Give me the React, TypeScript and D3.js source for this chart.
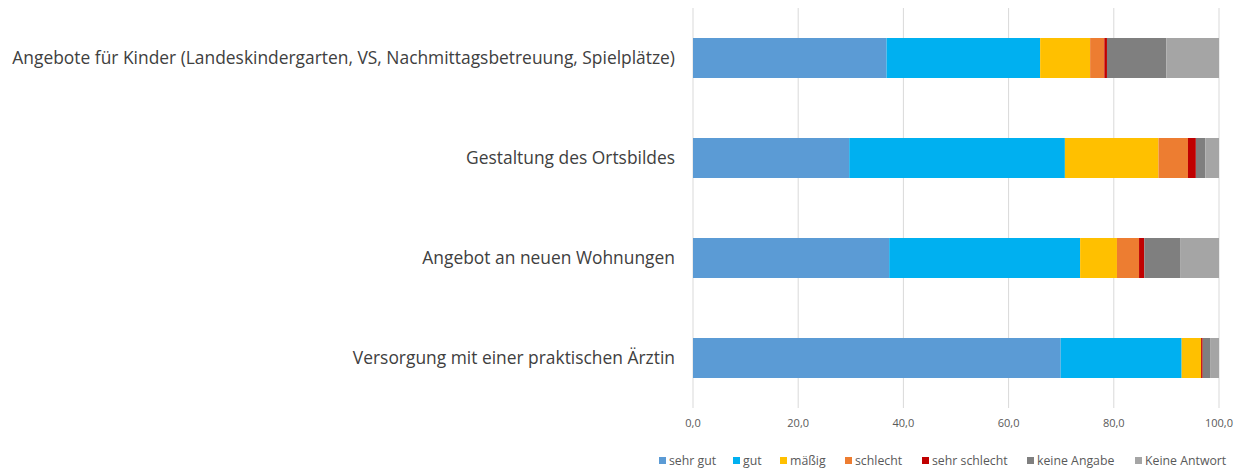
import React, { useRef, useEffect } from "react";
import * as d3 from "d3";

const categories = [
  "Angebote für Kinder (Landeskindergarten, VS, Nachmittagsbetreuung, Spielplätze)",
  "Gestaltung des Ortsbildes",
  "Angebot an neuen Wohnungen",
  "Versorgung mit einer praktischen Ärztin",
];
const seriesNames = ["sehr gut", "gut", "mäßig", "schlecht", "sehr schlecht", "keine Angabe", "Keine Antwort"];
const seriesColors = ["#5B9BD5", "#00B0F0", "#FFC000", "#ED7D31", "#C00000", "#7F7F7F", "#A5A5A5"];

const sehrGut = [36.8, 29.7, 37.3, 69.9];
const gut = [29.2, 41.0, 36.3, 23.0];
const maessig = [9.5, 17.8, 7.0, 3.7];
const schlecht = [2.7, 5.6, 4.2, 0.0];
const sehrSchlecht = [0.5, 1.5, 1.0, 0.3];
const keineAngabe = [11.3, 1.8, 6.8, 1.5];
const keineAntwort = [10.0, 2.6, 7.4, 1.6];

const tickValues = [0, 20, 40, 60, 80, 100];
const legendX = [659, 733, 780, 845, 922, 1027, 1135];

const W = 1248;
const H = 470;

export default function App() {
  const svgRef = useRef<SVGSVGElement>(null);

  useEffect(() => {
    const svg = d3.select(svgRef.current);
    svg.selectAll("*").remove();
    const font = "'Open Sans', 'Noto Sans', sans-serif";

    const values = [sehrGut, gut, maessig, schlecht, sehrSchlecht, keineAngabe, keineAntwort];
    const rows = categories.map((c, i) => {
      const r: any = { cat: c };
      seriesNames.forEach((s, j) => (r[s] = values[j][i]));
      return r;
    });
    const stacked = d3.stack<any>().keys(seriesNames)(rows);

    const x = d3.scaleLinear().domain([0, 100]).range([693, 1219]);
    const y = d3.scaleBand().domain(categories).range([8, 408]).paddingInner(0.6).paddingOuter(0.3);

    // gridlines
    svg.append("g")
      .selectAll("line")
      .data(tickValues)
      .join("line")
      .attr("x1", (d) => x(d))
      .attr("x2", (d) => x(d))
      .attr("y1", 8)
      .attr("y2", 408)
      .attr("stroke", "#d9d9d9")
      .attr("stroke-width", 1);

    // bars
    svg.append("g")
      .selectAll("g")
      .data(stacked)
      .join("g")
      .attr("fill", (_, i) => seriesColors[i])
      .selectAll("rect")
      .data((d) => d)
      .join("rect")
      .attr("x", (d) => x(d[0]))
      .attr("y", (d) => y(d.data.cat)!)
      .attr("width", (d) => x(d[1]) - x(d[0]))
      .attr("height", y.bandwidth());

    // category labels
    svg.append("g")
      .selectAll("text")
      .data(categories)
      .join("text")
      .attr("x", 675)
      .attr("y", (d) => y(d)! + y.bandwidth() / 2)
      .attr("dy", "0.35em")
      .attr("text-anchor", "end")
      .attr("font-family", font)
      .attr("font-size", 17.4)
      .attr("fill", "#404040")
      .text((d) => d);

    // x tick labels
    svg.append("g")
      .selectAll("text")
      .data(tickValues)
      .join("text")
      .attr("x", (d) => x(d))
      .attr("y", 427)
      .attr("text-anchor", "middle")
      .attr("font-family", font)
      .attr("font-size", 11)
      .attr("fill", "#595959")
      .text((d) => d3.format(".1f")(d).replace(".", ","));

    // legend
    const leg = svg.append("g")
      .selectAll("g")
      .data(seriesNames)
      .join("g")
      .attr("transform", (_, i) => `translate(${legendX[i]},461)`);
    leg.append("rect")
      .attr("x", 0)
      .attr("y", -4)
      .attr("width", 7)
      .attr("height", 7)
      .attr("fill", (_, i) => seriesColors[i]);
    leg.append("text")
      .attr("x", 10)
      .attr("y", 0)
      .attr("dy", "0.35em")
      .attr("font-family", font)
      .attr("font-size", 12.3)
      .attr("fill", "#595959")
      .text((d) => d);
  }, []);

  return (
    <svg
      ref={svgRef}
      width={W}
      height={H}
      style={{ position: "absolute", left: 0, top: 0, background: "#fff" }}
    />
  );
}
